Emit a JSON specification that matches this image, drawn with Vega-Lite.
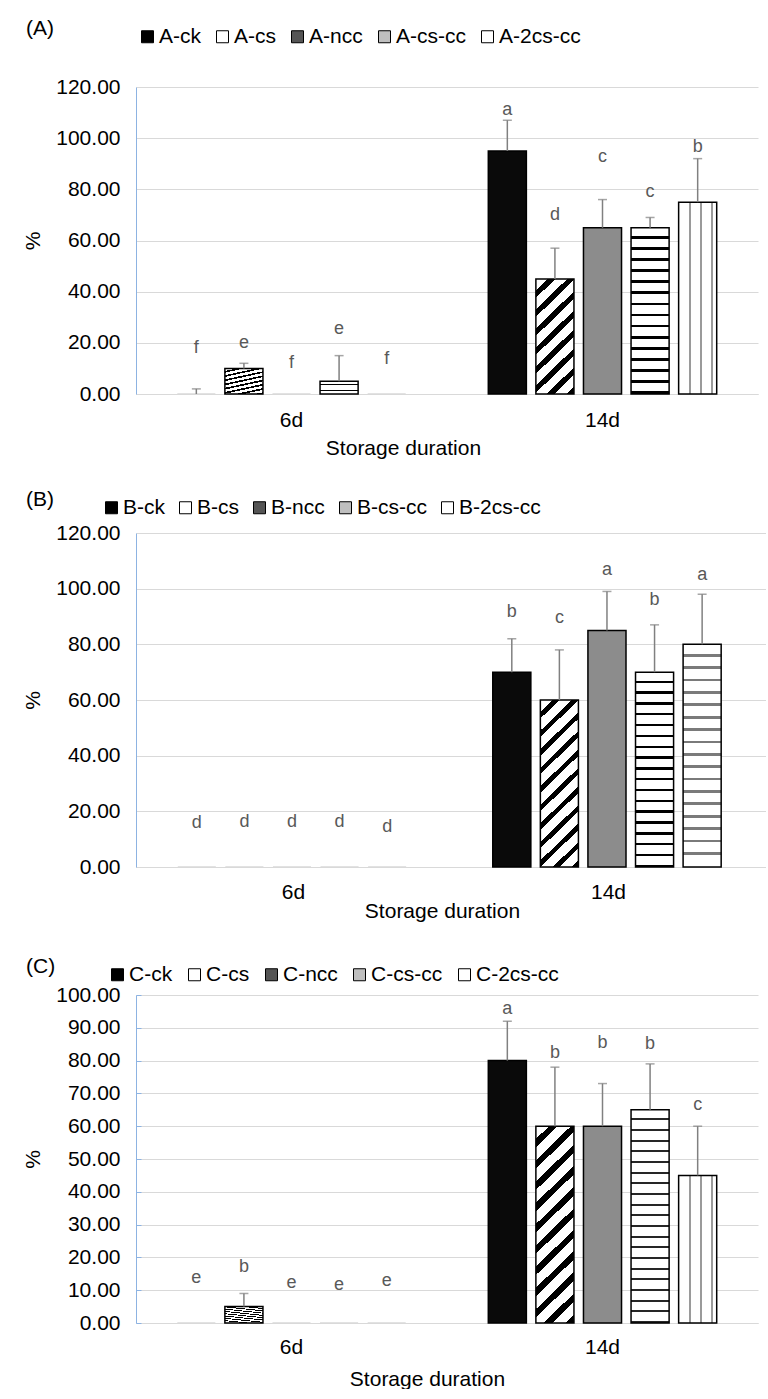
{
"$schema": "https://vega.github.io/schema/vega-lite/v6.json",
"padding": {"left": 22, "top": 18, "right": 0, "bottom": 0},
"autosize": {"type": "pad"},
"bounds": "flush",
"spacing": 139,
"resolve": {"scale": {"color": "independent"}, "legend": {"color": "independent"}},
"config": {
  "font": "Liberation Sans",
  "view": {"stroke": null},
  "axis": {"labelColor": "#000000", "titleColor": "#000000", "labelFontSize": 21, "titleFontSize": 21, "titleFontWeight": "normal", "labelOverlap": false},
  "legend": {"labelColor": "#000000", "labelFontSize": 21, "labelLimit": 0},
  "title": {"fontSize": 21, "fontWeight": "normal", "color": "#000000"}
},
"vconcat": [
{
  "width": 622, "height": 307,
  "title": {"text": "(A)", "anchor": "start", "frame": "group", "dx": -110, "offset": -13},
  "data": {"values": [
    {"day":"6d","g":"ck","name":"A-ck","mean":0,"top":2,"lab":"f","ly":18},
    {"day":"6d","g":"cs","name":"A-cs","mean":10,"top":12,"lab":"e","ly":20},
    {"day":"6d","g":"ncc","name":"A-ncc","mean":0,"top":0,"lab":"f","ly":12},
    {"day":"6d","g":"cscc","name":"A-cs-cc","mean":5,"top":15,"lab":"e","ly":25.5},
    {"day":"6d","g":"2cscc","name":"A-2cs-cc","mean":0,"top":0,"lab":"f","ly":13.5},
    {"day":"14d","g":"ck","name":"A-ck","mean":95,"top":107,"lab":"a","ly":111},
    {"day":"14d","g":"cs","name":"A-cs","mean":45,"top":57,"lab":"d","ly":70},
    {"day":"14d","g":"ncc","name":"A-ncc","mean":65,"top":76,"lab":"c","ly":92.5},
    {"day":"14d","g":"cscc","name":"A-cs-cc","mean":65,"top":69,"lab":"c","ly":79},
    {"day":"14d","g":"2cscc","name":"A-2cs-cc","mean":75,"top":92,"lab":"b","ly":96.5}
  ]},
  "encoding": {
    "x": {"field": "day", "type": "nominal", "sort": ["6d","14d"], "scale": {"paddingInner": 0.235, "paddingOuter": 0.1175},
          "axis": {"labelAngle": 0, "ticks": false, "domainColor": "#d9d9d9", "labelPadding": 15, "title": "Storage duration", "titlePadding": 7, "titleX": 267}},
    "xOffset": {"field": "g", "type": "nominal", "sort": ["ck","cs","ncc","cscc","2cscc"], "scale": {"paddingInner": 0.2, "paddingOuter": 0.1}}
  },
  "layer": [
    {"mark": {"type": "bar"},
     "encoding": {
       "y": {"field": "mean", "type": "quantitative", "title": "%", "scale": {"domain": [0,120], "nice": false},
             "axis": {"values": [0,20,40,60,80,100,120], "tickCount": 12, "format": ".2f", "gridColor": "#d9d9d9", "domainColor": "#8db3e2", "ticks": false, "labelPadding": 16, "titlePadding": 12}},
       "color": {"field": "name", "type": "nominal", "scale": {"domain": ["A-ck","A-cs","A-ncc","A-cs-cc","A-2cs-cc"], "range": ["#000000","#ffffff","#555555","#bfbfbf","#ffffff"]},
                 "legend": {"orient": "none", "legendX": 1, "legendY": -61, "direction": "horizontal", "title": null, "symbolType": "square", "symbolSize": 144, "symbolStrokeColor": "#000000", "symbolStrokeWidth": 1, "labelOffset": 1, "columnPadding": 11}}
     }},
    {"mark": {"type": "bar", "strokeWidth": 1.5},
     "encoding": {
       "y": {"field": "mean", "type": "quantitative", "title": "%",
             "axis": {"values": [0,20,40,60,80,100,120], "tickCount": 12, "format": ".2f", "gridColor": "#d9d9d9", "domainColor": "#8db3e2", "ticks": false, "labelPadding": 16, "titlePadding": 12}},
       "stroke": {"condition": {"test": "datum.mean > 0", "value": "#000000"}, "value": "#d9d9d9"},
       "fill": {"condition": [
         {"test": "datum.g === 'cs'", "value": {"gradient": "linear", "x1": 0, "y1": 0, "x2": 0.383, "y2": 1.197, "stops": [
           {"offset":0,"color":"#fff"},
           {"offset":0.075,"color":"#fff"},{"offset":0.075,"color":"#000"},{"offset":0.125,"color":"#000"},{"offset":0.125,"color":"#fff"},
           {"offset":0.2,"color":"#fff"},{"offset":0.2,"color":"#000"},{"offset":0.25,"color":"#000"},{"offset":0.25,"color":"#fff"},
           {"offset":0.325,"color":"#fff"},{"offset":0.325,"color":"#000"},{"offset":0.375,"color":"#000"},{"offset":0.375,"color":"#fff"},
           {"offset":0.45,"color":"#fff"},{"offset":0.45,"color":"#000"},{"offset":0.5,"color":"#000"},{"offset":0.5,"color":"#fff"},
           {"offset":0.575,"color":"#fff"},{"offset":0.575,"color":"#000"},{"offset":0.625,"color":"#000"},{"offset":0.625,"color":"#fff"},
           {"offset":0.7,"color":"#fff"},{"offset":0.7,"color":"#000"},{"offset":0.75,"color":"#000"},{"offset":0.75,"color":"#fff"},
           {"offset":0.825,"color":"#fff"},{"offset":0.825,"color":"#000"},{"offset":0.875,"color":"#000"},{"offset":0.875,"color":"#fff"},
           {"offset":0.95,"color":"#fff"},{"offset":0.95,"color":"#000"},{"offset":1,"color":"#000"}
         ]}},
         {"test": "datum.g === 'ncc'", "value": "#8c8c8c"},
         {"test": "datum.g === 'cscc'", "value": {"gradient": "linear", "x1": 0, "y1": 0, "x2": 0, "y2": 1, "stops": [
           {"offset":0,"color":"#fff"},
           {"offset":0.05,"color":"#fff"},{"offset":0.05,"color":"#000"},{"offset":0.0667,"color":"#000"},{"offset":0.0667,"color":"#fff"},
           {"offset":0.1167,"color":"#fff"},{"offset":0.1167,"color":"#000"},{"offset":0.1333,"color":"#000"},{"offset":0.1333,"color":"#fff"},
           {"offset":0.1833,"color":"#fff"},{"offset":0.1833,"color":"#000"},{"offset":0.2,"color":"#000"},{"offset":0.2,"color":"#fff"},
           {"offset":0.25,"color":"#fff"},{"offset":0.25,"color":"#000"},{"offset":0.2667,"color":"#000"},{"offset":0.2667,"color":"#fff"},
           {"offset":0.3167,"color":"#fff"},{"offset":0.3167,"color":"#000"},{"offset":0.3333,"color":"#000"},{"offset":0.3333,"color":"#fff"},
           {"offset":0.3833,"color":"#fff"},{"offset":0.3833,"color":"#000"},{"offset":0.4,"color":"#000"},{"offset":0.4,"color":"#fff"},
           {"offset":0.45,"color":"#fff"},{"offset":0.45,"color":"#000"},{"offset":0.4667,"color":"#000"},{"offset":0.4667,"color":"#fff"},
           {"offset":0.5167,"color":"#fff"},{"offset":0.5167,"color":"#000"},{"offset":0.5333,"color":"#000"},{"offset":0.5333,"color":"#fff"},
           {"offset":0.5833,"color":"#fff"},{"offset":0.5833,"color":"#000"},{"offset":0.6,"color":"#000"},{"offset":0.6,"color":"#fff"},
           {"offset":0.65,"color":"#fff"},{"offset":0.65,"color":"#000"},{"offset":0.6667,"color":"#000"},{"offset":0.6667,"color":"#fff"},
           {"offset":0.7167,"color":"#fff"},{"offset":0.7167,"color":"#000"},{"offset":0.7333,"color":"#000"},{"offset":0.7333,"color":"#fff"},
           {"offset":0.7833,"color":"#fff"},{"offset":0.7833,"color":"#000"},{"offset":0.8,"color":"#000"},{"offset":0.8,"color":"#fff"},
           {"offset":0.85,"color":"#fff"},{"offset":0.85,"color":"#000"},{"offset":0.8667,"color":"#000"},{"offset":0.8667,"color":"#fff"},
           {"offset":0.9167,"color":"#fff"},{"offset":0.9167,"color":"#000"},{"offset":0.9333,"color":"#000"},{"offset":0.9333,"color":"#fff"},
           {"offset":0.9833,"color":"#fff"},{"offset":0.9833,"color":"#000"},{"offset":1,"color":"#000"}
         ]}},
         {"test": "datum.g === '2cscc'", "value": {"gradient": "linear", "x1": 0, "y1": 0, "x2": 1, "y2": 0, "stops": [
           {"offset":0,"color":"#fff"},
           {"offset":0.26,"color":"#fff"},{"offset":0.26,"color":"#9a9a9a"},{"offset":0.33,"color":"#9a9a9a"},{"offset":0.33,"color":"#fff"},
           {"offset":0.55,"color":"#fff"},{"offset":0.55,"color":"#9a9a9a"},{"offset":0.62,"color":"#9a9a9a"},{"offset":0.62,"color":"#fff"},
           {"offset":0.84,"color":"#fff"},{"offset":0.84,"color":"#9a9a9a"},{"offset":0.91,"color":"#9a9a9a"},{"offset":0.91,"color":"#fff"},
           {"offset":1,"color":"#fff"}
         ]}}
       ], "value": "#0a0a0a"}
     }},
    {"transform": [{"filter": "datum.top > datum.mean"}],
     "mark": {"type": "rule", "color": "#808080", "strokeWidth": 1.5},
     "encoding": {"y": {"field": "mean", "type": "quantitative", "title": "%",
             "axis": {"values": [0,20,40,60,80,100,120], "tickCount": 12, "format": ".2f", "gridColor": "#d9d9d9", "domainColor": "#8db3e2", "ticks": false, "labelPadding": 16, "titlePadding": 12}}, "y2": {"field": "top"}}},
    {"transform": [{"filter": "datum.top > datum.mean"}],
     "mark": {"type": "tick", "color": "#808080", "thickness": 1.5, "size": 9},
     "encoding": {"y": {"field": "top", "type": "quantitative", "title": "%",
             "axis": {"values": [0,20,40,60,80,100,120], "tickCount": 12, "format": ".2f", "gridColor": "#d9d9d9", "domainColor": "#8db3e2", "ticks": false, "labelPadding": 16, "titlePadding": 12}}}},
    {"mark": {"type": "text", "fontSize": 18, "color": "#595959", "baseline": "middle"},
     "encoding": {"y": {"field": "ly", "type": "quantitative", "title": "%",
             "axis": {"values": [0,20,40,60,80,100,120], "tickCount": 12, "format": ".2f", "gridColor": "#d9d9d9", "domainColor": "#8db3e2", "ticks": false, "labelPadding": 16, "titlePadding": 12}}, "text": {"field": "lab"}}}
  ]
},
{
  "bounds": "flush",
  "spacing": 128,
  "resolve": {"scale": {"color": "independent"}, "legend": {"color": "independent"}},
  "vconcat": [
  {
    "width": 630, "height": 334,
    "title": {"text": "(B)", "anchor": "start", "frame": "group", "dx": -110, "offset": -13},
    "data": {"values": [
      {"day":"6d","g":"ck","name":"B-ck","mean":0,"top":0,"lab":"d","ly":15.8},
      {"day":"6d","g":"cs","name":"B-cs","mean":0,"top":0,"lab":"d","ly":16.2},
      {"day":"6d","g":"ncc","name":"B-ncc","mean":0,"top":0,"lab":"d","ly":16},
      {"day":"6d","g":"cscc","name":"B-cs-cc","mean":0,"top":0,"lab":"d","ly":16},
      {"day":"6d","g":"2cscc","name":"B-2cs-cc","mean":0,"top":0,"lab":"d","ly":14.4},
      {"day":"14d","g":"ck","name":"B-ck","mean":70,"top":82,"lab":"b","ly":91.6},
      {"day":"14d","g":"cs","name":"B-cs","mean":60,"top":78,"lab":"c","ly":89.5},
      {"day":"14d","g":"ncc","name":"B-ncc","mean":85,"top":99,"lab":"a","ly":106.7},
      {"day":"14d","g":"cscc","name":"B-cs-cc","mean":70,"top":87,"lab":"b","ly":96},
      {"day":"14d","g":"2cscc","name":"B-2cs-cc","mean":80,"top":98,"lab":"a","ly":105}
    ]},
    "encoding": {
      "x": {"field": "day", "type": "nominal", "sort": ["6d","14d"], "scale": {"paddingInner": 0.235, "paddingOuter": 0.1175},
            "axis": {"labelAngle": 0, "ticks": false, "domainColor": "#d9d9d9", "labelPadding": 14, "title": "Storage duration", "titlePadding": -2, "titleX": 306}},
      "xOffset": {"field": "g", "type": "nominal", "sort": ["ck","cs","ncc","cscc","2cscc"], "scale": {"paddingInner": 0.2, "paddingOuter": 0.1}}
    },
    "layer": [
      {"mark": {"type": "bar"},
       "encoding": {
         "y": {"field": "mean", "type": "quantitative", "title": "%", "scale": {"domain": [0,120], "nice": false},
               "axis": {"values": [0,20,40,60,80,100,120], "tickCount": 12, "format": ".2f", "gridColor": "#d9d9d9", "domainColor": "#8db3e2", "ticks": false, "labelPadding": 16, "titlePadding": 12}},
         "color": {"field": "name", "type": "nominal", "scale": {"domain": ["B-ck","B-cs","B-ncc","B-cs-cc","B-2cs-cc"], "range": ["#000000","#ffffff","#555555","#bfbfbf","#ffffff"]},
                   "legend": {"orient": "none", "legendX": -35, "legendY": -36, "direction": "horizontal", "title": null, "symbolType": "square", "symbolSize": 144, "symbolStrokeColor": "#000000", "symbolStrokeWidth": 1, "labelOffset": 1, "columnPadding": 10}}
       }},
      {"mark": {"type": "bar", "strokeWidth": 1.5},
       "encoding": {
         "y": {"field": "mean", "type": "quantitative", "title": "%",
               "axis": {"values": [0,20,40,60,80,100,120], "tickCount": 12, "format": ".2f", "gridColor": "#d9d9d9", "domainColor": "#8db3e2", "ticks": false, "labelPadding": 16, "titlePadding": 12}},
         "stroke": {"condition": {"test": "datum.mean > 0", "value": "#000000"}, "value": "#d9d9d9"},
         "fill": {"condition": [
           {"test": "datum.g === 'cs'", "value": {"gradient": "linear", "x1": 0, "y1": 0, "x2": 0.258, "y2": 1.1645, "stops": [
             {"offset":0,"color":"#fff"},
             {"offset":0.0591,"color":"#fff"},{"offset":0.0591,"color":"#000"},{"offset":0.0909,"color":"#000"},{"offset":0.0909,"color":"#fff"},
             {"offset":0.15,"color":"#fff"},{"offset":0.15,"color":"#000"},{"offset":0.1818,"color":"#000"},{"offset":0.1818,"color":"#fff"},
             {"offset":0.2409,"color":"#fff"},{"offset":0.2409,"color":"#000"},{"offset":0.2727,"color":"#000"},{"offset":0.2727,"color":"#fff"},
             {"offset":0.3318,"color":"#fff"},{"offset":0.3318,"color":"#000"},{"offset":0.3636,"color":"#000"},{"offset":0.3636,"color":"#fff"},
             {"offset":0.4227,"color":"#fff"},{"offset":0.4227,"color":"#000"},{"offset":0.4545,"color":"#000"},{"offset":0.4545,"color":"#fff"},
             {"offset":0.5136,"color":"#fff"},{"offset":0.5136,"color":"#000"},{"offset":0.5455,"color":"#000"},{"offset":0.5455,"color":"#fff"},
             {"offset":0.6045,"color":"#fff"},{"offset":0.6045,"color":"#000"},{"offset":0.6364,"color":"#000"},{"offset":0.6364,"color":"#fff"},
             {"offset":0.6955,"color":"#fff"},{"offset":0.6955,"color":"#000"},{"offset":0.7273,"color":"#000"},{"offset":0.7273,"color":"#fff"},
             {"offset":0.7864,"color":"#fff"},{"offset":0.7864,"color":"#000"},{"offset":0.8182,"color":"#000"},{"offset":0.8182,"color":"#fff"},
             {"offset":0.8773,"color":"#fff"},{"offset":0.8773,"color":"#000"},{"offset":0.9091,"color":"#000"},{"offset":0.9091,"color":"#fff"},
             {"offset":0.9682,"color":"#fff"},{"offset":0.9682,"color":"#000"},{"offset":1,"color":"#000"}
           ]}},
           {"test": "datum.g === 'ncc'", "value": "#8c8c8c"},
           {"test": "datum.g === 'cscc'", "value": {"gradient": "linear", "x1": 0, "y1": 0, "x2": 0, "y2": 1, "stops": [
             {"offset":0,"color":"#fff"},
             {"offset":0.0433,"color":"#fff"},{"offset":0.0433,"color":"#000"},{"offset":0.0556,"color":"#000"},{"offset":0.0556,"color":"#fff"},
             {"offset":0.0989,"color":"#fff"},{"offset":0.0989,"color":"#000"},{"offset":0.1111,"color":"#000"},{"offset":0.1111,"color":"#fff"},
             {"offset":0.1544,"color":"#fff"},{"offset":0.1544,"color":"#000"},{"offset":0.1667,"color":"#000"},{"offset":0.1667,"color":"#fff"},
             {"offset":0.21,"color":"#fff"},{"offset":0.21,"color":"#000"},{"offset":0.2222,"color":"#000"},{"offset":0.2222,"color":"#fff"},
             {"offset":0.2656,"color":"#fff"},{"offset":0.2656,"color":"#000"},{"offset":0.2778,"color":"#000"},{"offset":0.2778,"color":"#fff"},
             {"offset":0.3211,"color":"#fff"},{"offset":0.3211,"color":"#000"},{"offset":0.3333,"color":"#000"},{"offset":0.3333,"color":"#fff"},
             {"offset":0.3767,"color":"#fff"},{"offset":0.3767,"color":"#000"},{"offset":0.3889,"color":"#000"},{"offset":0.3889,"color":"#fff"},
             {"offset":0.4322,"color":"#fff"},{"offset":0.4322,"color":"#000"},{"offset":0.4444,"color":"#000"},{"offset":0.4444,"color":"#fff"},
             {"offset":0.4878,"color":"#fff"},{"offset":0.4878,"color":"#000"},{"offset":0.5,"color":"#000"},{"offset":0.5,"color":"#fff"},
             {"offset":0.5433,"color":"#fff"},{"offset":0.5433,"color":"#000"},{"offset":0.5556,"color":"#000"},{"offset":0.5556,"color":"#fff"},
             {"offset":0.5989,"color":"#fff"},{"offset":0.5989,"color":"#000"},{"offset":0.6111,"color":"#000"},{"offset":0.6111,"color":"#fff"},
             {"offset":0.6544,"color":"#fff"},{"offset":0.6544,"color":"#000"},{"offset":0.6667,"color":"#000"},{"offset":0.6667,"color":"#fff"},
             {"offset":0.71,"color":"#fff"},{"offset":0.71,"color":"#000"},{"offset":0.7222,"color":"#000"},{"offset":0.7222,"color":"#fff"},
             {"offset":0.7656,"color":"#fff"},{"offset":0.7656,"color":"#000"},{"offset":0.7778,"color":"#000"},{"offset":0.7778,"color":"#fff"},
             {"offset":0.8211,"color":"#fff"},{"offset":0.8211,"color":"#000"},{"offset":0.8333,"color":"#000"},{"offset":0.8333,"color":"#fff"},
             {"offset":0.8767,"color":"#fff"},{"offset":0.8767,"color":"#000"},{"offset":0.8889,"color":"#000"},{"offset":0.8889,"color":"#fff"},
             {"offset":0.9322,"color":"#fff"},{"offset":0.9322,"color":"#000"},{"offset":0.9444,"color":"#000"},{"offset":0.9444,"color":"#fff"},
             {"offset":0.9878,"color":"#fff"},{"offset":0.9878,"color":"#000"},{"offset":1,"color":"#000"}
           ]}},
           {"test": "datum.g === '2cscc'", "value": {"gradient": "linear", "x1": 0, "y1": 0, "x2": 0, "y2": 1, "stops": [
             {"offset":0,"color":"#fff"},
             {"offset":0.0433,"color":"#fff"},{"offset":0.0433,"color":"#7a7a7a"},{"offset":0.0556,"color":"#7a7a7a"},{"offset":0.0556,"color":"#fff"},
             {"offset":0.0989,"color":"#fff"},{"offset":0.0989,"color":"#7a7a7a"},{"offset":0.1111,"color":"#7a7a7a"},{"offset":0.1111,"color":"#fff"},
             {"offset":0.1544,"color":"#fff"},{"offset":0.1544,"color":"#7a7a7a"},{"offset":0.1667,"color":"#7a7a7a"},{"offset":0.1667,"color":"#fff"},
             {"offset":0.21,"color":"#fff"},{"offset":0.21,"color":"#7a7a7a"},{"offset":0.2222,"color":"#7a7a7a"},{"offset":0.2222,"color":"#fff"},
             {"offset":0.2656,"color":"#fff"},{"offset":0.2656,"color":"#7a7a7a"},{"offset":0.2778,"color":"#7a7a7a"},{"offset":0.2778,"color":"#fff"},
             {"offset":0.3211,"color":"#fff"},{"offset":0.3211,"color":"#7a7a7a"},{"offset":0.3333,"color":"#7a7a7a"},{"offset":0.3333,"color":"#fff"},
             {"offset":0.3767,"color":"#fff"},{"offset":0.3767,"color":"#7a7a7a"},{"offset":0.3889,"color":"#7a7a7a"},{"offset":0.3889,"color":"#fff"},
             {"offset":0.4322,"color":"#fff"},{"offset":0.4322,"color":"#7a7a7a"},{"offset":0.4444,"color":"#7a7a7a"},{"offset":0.4444,"color":"#fff"},
             {"offset":0.4878,"color":"#fff"},{"offset":0.4878,"color":"#7a7a7a"},{"offset":0.5,"color":"#7a7a7a"},{"offset":0.5,"color":"#fff"},
             {"offset":0.5433,"color":"#fff"},{"offset":0.5433,"color":"#7a7a7a"},{"offset":0.5556,"color":"#7a7a7a"},{"offset":0.5556,"color":"#fff"},
             {"offset":0.5989,"color":"#fff"},{"offset":0.5989,"color":"#7a7a7a"},{"offset":0.6111,"color":"#7a7a7a"},{"offset":0.6111,"color":"#fff"},
             {"offset":0.6544,"color":"#fff"},{"offset":0.6544,"color":"#7a7a7a"},{"offset":0.6667,"color":"#7a7a7a"},{"offset":0.6667,"color":"#fff"},
             {"offset":0.71,"color":"#fff"},{"offset":0.71,"color":"#7a7a7a"},{"offset":0.7222,"color":"#7a7a7a"},{"offset":0.7222,"color":"#fff"},
             {"offset":0.7656,"color":"#fff"},{"offset":0.7656,"color":"#7a7a7a"},{"offset":0.7778,"color":"#7a7a7a"},{"offset":0.7778,"color":"#fff"},
             {"offset":0.8211,"color":"#fff"},{"offset":0.8211,"color":"#7a7a7a"},{"offset":0.8333,"color":"#7a7a7a"},{"offset":0.8333,"color":"#fff"},
             {"offset":0.8767,"color":"#fff"},{"offset":0.8767,"color":"#7a7a7a"},{"offset":0.8889,"color":"#7a7a7a"},{"offset":0.8889,"color":"#fff"},
             {"offset":0.9322,"color":"#fff"},{"offset":0.9322,"color":"#7a7a7a"},{"offset":0.9444,"color":"#7a7a7a"},{"offset":0.9444,"color":"#fff"},
             {"offset":1,"color":"#fff"}
           ]}}
         ], "value": "#0a0a0a"}
       }},
      {"transform": [{"filter": "datum.top > datum.mean"}],
       "mark": {"type": "rule", "color": "#808080", "strokeWidth": 1.5},
       "encoding": {"y": {"field": "mean", "type": "quantitative", "title": "%",
               "axis": {"values": [0,20,40,60,80,100,120], "tickCount": 12, "format": ".2f", "gridColor": "#d9d9d9", "domainColor": "#8db3e2", "ticks": false, "labelPadding": 16, "titlePadding": 12}}, "y2": {"field": "top"}}},
      {"transform": [{"filter": "datum.top > datum.mean"}],
       "mark": {"type": "tick", "color": "#808080", "thickness": 1.5, "size": 9},
       "encoding": {"y": {"field": "top", "type": "quantitative", "title": "%",
               "axis": {"values": [0,20,40,60,80,100,120], "tickCount": 12, "format": ".2f", "gridColor": "#d9d9d9", "domainColor": "#8db3e2", "ticks": false, "labelPadding": 16, "titlePadding": 12}}}},
      {"mark": {"type": "text", "fontSize": 18, "color": "#595959", "baseline": "middle"},
       "encoding": {"y": {"field": "ly", "type": "quantitative", "title": "%",
               "axis": {"values": [0,20,40,60,80,100,120], "tickCount": 12, "format": ".2f", "gridColor": "#d9d9d9", "domainColor": "#8db3e2", "ticks": false, "labelPadding": 16, "titlePadding": 12}}, "text": {"field": "lab"}}}
    ]
  },
  {
    "width": 622, "height": 328,
    "title": {"text": "(C)", "anchor": "start", "frame": "group", "dx": -110, "offset": -13},
    "data": {"values": [
      {"day":"6d","g":"ck","name":"C-ck","mean":0,"top":0,"lab":"e","ly":13.7},
      {"day":"6d","g":"cs","name":"C-cs","mean":5,"top":9,"lab":"b","ly":17},
      {"day":"6d","g":"ncc","name":"C-ncc","mean":0,"top":0,"lab":"e","ly":12.2},
      {"day":"6d","g":"cscc","name":"C-cs-cc","mean":0,"top":0,"lab":"e","ly":11.6},
      {"day":"6d","g":"2cscc","name":"C-2cs-cc","mean":0,"top":0,"lab":"e","ly":12.8},
      {"day":"14d","g":"ck","name":"C-ck","mean":80,"top":92,"lab":"a","ly":95.6},
      {"day":"14d","g":"cs","name":"C-cs","mean":60,"top":78,"lab":"b","ly":82.3},
      {"day":"14d","g":"ncc","name":"C-ncc","mean":60,"top":73,"lab":"b","ly":85.4},
      {"day":"14d","g":"cscc","name":"C-cs-cc","mean":65,"top":79,"lab":"b","ly":85.2},
      {"day":"14d","g":"2cscc","name":"C-2cs-cc","mean":45,"top":60,"lab":"c","ly":66.5}
    ]},
    "encoding": {
      "x": {"field": "day", "type": "nominal", "sort": ["6d","14d"], "scale": {"paddingInner": 0.235, "paddingOuter": 0.1175},
            "axis": {"labelAngle": 0, "ticks": false, "domainColor": "#d9d9d9", "labelPadding": 13, "title": "Storage  duration", "titlePadding": 11, "titleX": 291}},
      "xOffset": {"field": "g", "type": "nominal", "sort": ["ck","cs","ncc","cscc","2cscc"], "scale": {"paddingInner": 0.2, "paddingOuter": 0.1}}
    },
    "layer": [
      {"mark": {"type": "bar"},
       "encoding": {
         "y": {"field": "mean", "type": "quantitative", "title": "%", "scale": {"domain": [0,100], "nice": false},
               "axis": {"values": [0,10,20,30,40,50,60,70,80,90,100], "tickCount": 20, "format": ".2f", "gridColor": "#d9d9d9", "domainColor": "#8db3e2", "ticks": true, "tickColor": "#8db3e2", "tickSize": -5, "labelPadding": 21, "titlePadding": 12}},
         "color": {"field": "name", "type": "nominal", "scale": {"domain": ["C-ck","C-cs","C-ncc","C-cs-cc","C-2cs-cc"], "range": ["#000000","#ffffff","#555555","#bfbfbf","#ffffff"]},
                   "legend": {"orient": "none", "legendX": -29, "legendY": -31, "direction": "horizontal", "title": null, "symbolType": "square", "symbolSize": 144, "symbolStrokeColor": "#000000", "symbolStrokeWidth": 1, "labelOffset": 1, "columnPadding": 11}}
       }},
      {"mark": {"type": "bar", "strokeWidth": 1.5},
       "encoding": {
         "y": {"field": "mean", "type": "quantitative", "title": "%",
               "axis": {"values": [0,10,20,30,40,50,60,70,80,90,100], "tickCount": 20, "format": ".2f", "gridColor": "#d9d9d9", "domainColor": "#8db3e2", "ticks": true, "tickColor": "#8db3e2", "tickSize": -5, "labelPadding": 21, "titlePadding": 12}},
         "stroke": {"condition": {"test": "datum.mean > 0", "value": "#000000"}, "value": "#d9d9d9"},
         "fill": {"condition": [
           {"test": "datum.g === 'cs'", "value": {"gradient": "linear", "x1": 0, "y1": 0, "x2": 0.216, "y2": 1.148, "stops": [
             {"offset":0,"color":"#fff"},
             {"offset":0.0545,"color":"#fff"},{"offset":0.0545,"color":"#000"},{"offset":0.0909,"color":"#000"},{"offset":0.0909,"color":"#fff"},
             {"offset":0.1455,"color":"#fff"},{"offset":0.1455,"color":"#000"},{"offset":0.1818,"color":"#000"},{"offset":0.1818,"color":"#fff"},
             {"offset":0.2364,"color":"#fff"},{"offset":0.2364,"color":"#000"},{"offset":0.2727,"color":"#000"},{"offset":0.2727,"color":"#fff"},
             {"offset":0.3273,"color":"#fff"},{"offset":0.3273,"color":"#000"},{"offset":0.3636,"color":"#000"},{"offset":0.3636,"color":"#fff"},
             {"offset":0.4182,"color":"#fff"},{"offset":0.4182,"color":"#000"},{"offset":0.4545,"color":"#000"},{"offset":0.4545,"color":"#fff"},
             {"offset":0.5091,"color":"#fff"},{"offset":0.5091,"color":"#000"},{"offset":0.5455,"color":"#000"},{"offset":0.5455,"color":"#fff"},
             {"offset":0.6,"color":"#fff"},{"offset":0.6,"color":"#000"},{"offset":0.6364,"color":"#000"},{"offset":0.6364,"color":"#fff"},
             {"offset":0.6909,"color":"#fff"},{"offset":0.6909,"color":"#000"},{"offset":0.7273,"color":"#000"},{"offset":0.7273,"color":"#fff"},
             {"offset":0.7818,"color":"#fff"},{"offset":0.7818,"color":"#000"},{"offset":0.8182,"color":"#000"},{"offset":0.8182,"color":"#fff"},
             {"offset":0.8727,"color":"#fff"},{"offset":0.8727,"color":"#000"},{"offset":0.9091,"color":"#000"},{"offset":0.9091,"color":"#fff"},
             {"offset":0.9636,"color":"#fff"},{"offset":0.9636,"color":"#000"},{"offset":1,"color":"#000"}
           ]}},
           {"test": "datum.g === 'ncc'", "value": "#8c8c8c"},
           {"test": "datum.g === 'cscc'", "value": {"gradient": "linear", "x1": 0, "y1": 0, "x2": 0, "y2": 1, "stops": [
             {"offset":0,"color":"#fff"},
             {"offset":0.04,"color":"#fff"},{"offset":0.04,"color":"#262626"},{"offset":0.05,"color":"#262626"},{"offset":0.05,"color":"#fff"},
             {"offset":0.09,"color":"#fff"},{"offset":0.09,"color":"#262626"},{"offset":0.1,"color":"#262626"},{"offset":0.1,"color":"#fff"},
             {"offset":0.14,"color":"#fff"},{"offset":0.14,"color":"#262626"},{"offset":0.15,"color":"#262626"},{"offset":0.15,"color":"#fff"},
             {"offset":0.19,"color":"#fff"},{"offset":0.19,"color":"#262626"},{"offset":0.2,"color":"#262626"},{"offset":0.2,"color":"#fff"},
             {"offset":0.24,"color":"#fff"},{"offset":0.24,"color":"#262626"},{"offset":0.25,"color":"#262626"},{"offset":0.25,"color":"#fff"},
             {"offset":0.29,"color":"#fff"},{"offset":0.29,"color":"#262626"},{"offset":0.3,"color":"#262626"},{"offset":0.3,"color":"#fff"},
             {"offset":0.34,"color":"#fff"},{"offset":0.34,"color":"#262626"},{"offset":0.35,"color":"#262626"},{"offset":0.35,"color":"#fff"},
             {"offset":0.39,"color":"#fff"},{"offset":0.39,"color":"#262626"},{"offset":0.4,"color":"#262626"},{"offset":0.4,"color":"#fff"},
             {"offset":0.44,"color":"#fff"},{"offset":0.44,"color":"#262626"},{"offset":0.45,"color":"#262626"},{"offset":0.45,"color":"#fff"},
             {"offset":0.49,"color":"#fff"},{"offset":0.49,"color":"#262626"},{"offset":0.5,"color":"#262626"},{"offset":0.5,"color":"#fff"},
             {"offset":0.54,"color":"#fff"},{"offset":0.54,"color":"#262626"},{"offset":0.55,"color":"#262626"},{"offset":0.55,"color":"#fff"},
             {"offset":0.59,"color":"#fff"},{"offset":0.59,"color":"#262626"},{"offset":0.6,"color":"#262626"},{"offset":0.6,"color":"#fff"},
             {"offset":0.64,"color":"#fff"},{"offset":0.64,"color":"#262626"},{"offset":0.65,"color":"#262626"},{"offset":0.65,"color":"#fff"},
             {"offset":0.69,"color":"#fff"},{"offset":0.69,"color":"#262626"},{"offset":0.7,"color":"#262626"},{"offset":0.7,"color":"#fff"},
             {"offset":0.74,"color":"#fff"},{"offset":0.74,"color":"#262626"},{"offset":0.75,"color":"#262626"},{"offset":0.75,"color":"#fff"},
             {"offset":0.79,"color":"#fff"},{"offset":0.79,"color":"#262626"},{"offset":0.8,"color":"#262626"},{"offset":0.8,"color":"#fff"},
             {"offset":0.84,"color":"#fff"},{"offset":0.84,"color":"#262626"},{"offset":0.85,"color":"#262626"},{"offset":0.85,"color":"#fff"},
             {"offset":0.89,"color":"#fff"},{"offset":0.89,"color":"#262626"},{"offset":0.9,"color":"#262626"},{"offset":0.9,"color":"#fff"},
             {"offset":0.94,"color":"#fff"},{"offset":0.94,"color":"#262626"},{"offset":0.95,"color":"#262626"},{"offset":0.95,"color":"#fff"},
             {"offset":0.99,"color":"#fff"},{"offset":0.99,"color":"#262626"},{"offset":1,"color":"#262626"}
           ]}},
           {"test": "datum.g === '2cscc'", "value": {"gradient": "linear", "x1": 0, "y1": 0, "x2": 1, "y2": 0, "stops": [
             {"offset":0,"color":"#fff"},
             {"offset":0.26,"color":"#fff"},{"offset":0.26,"color":"#9a9a9a"},{"offset":0.33,"color":"#9a9a9a"},{"offset":0.33,"color":"#fff"},
             {"offset":0.55,"color":"#fff"},{"offset":0.55,"color":"#9a9a9a"},{"offset":0.62,"color":"#9a9a9a"},{"offset":0.62,"color":"#fff"},
             {"offset":0.84,"color":"#fff"},{"offset":0.84,"color":"#9a9a9a"},{"offset":0.91,"color":"#9a9a9a"},{"offset":0.91,"color":"#fff"},
             {"offset":1,"color":"#fff"}
           ]}}
         ], "value": "#0a0a0a"}
       }},
      {"transform": [{"filter": "datum.top > datum.mean"}],
       "mark": {"type": "rule", "color": "#808080", "strokeWidth": 1.5},
       "encoding": {"y": {"field": "mean", "type": "quantitative", "title": "%",
               "axis": {"values": [0,10,20,30,40,50,60,70,80,90,100], "tickCount": 20, "format": ".2f", "gridColor": "#d9d9d9", "domainColor": "#8db3e2", "ticks": true, "tickColor": "#8db3e2", "tickSize": -5, "labelPadding": 21, "titlePadding": 12}}, "y2": {"field": "top"}}},
      {"transform": [{"filter": "datum.top > datum.mean"}],
       "mark": {"type": "tick", "color": "#808080", "thickness": 1.5, "size": 9},
       "encoding": {"y": {"field": "top", "type": "quantitative", "title": "%",
               "axis": {"values": [0,10,20,30,40,50,60,70,80,90,100], "tickCount": 20, "format": ".2f", "gridColor": "#d9d9d9", "domainColor": "#8db3e2", "ticks": true, "tickColor": "#8db3e2", "tickSize": -5, "labelPadding": 21, "titlePadding": 12}}}},
      {"mark": {"type": "text", "fontSize": 18, "color": "#595959", "baseline": "middle"},
       "encoding": {"y": {"field": "ly", "type": "quantitative", "title": "%",
               "axis": {"values": [0,10,20,30,40,50,60,70,80,90,100], "tickCount": 20, "format": ".2f", "gridColor": "#d9d9d9", "domainColor": "#8db3e2", "ticks": true, "tickColor": "#8db3e2", "tickSize": -5, "labelPadding": 21, "titlePadding": 12}}, "text": {"field": "lab"}}}
    ]
  }
  ]
}
]
}
